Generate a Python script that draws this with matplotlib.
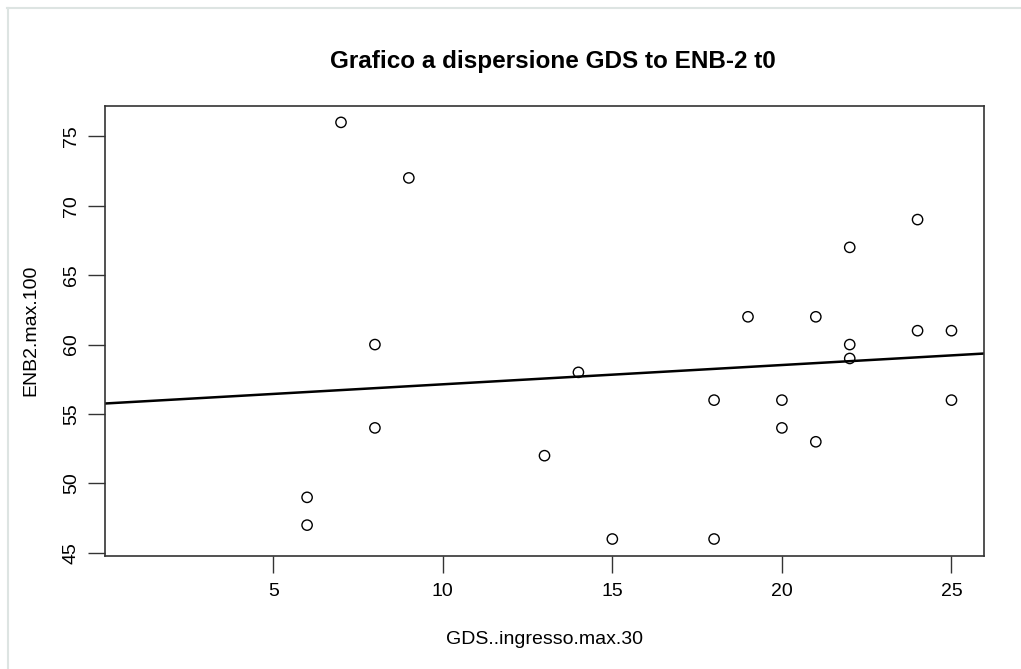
import numpy as np
import matplotlib
matplotlib.use("Agg")
import matplotlib.pyplot as plt
from matplotlib.lines import Line2D

# GDS (x) vs ENB-2 (y), one point per subject
gds = [7, 9, 8, 8, 6, 6, 13, 14, 15, 18, 18, 19, 20, 20, 21, 21, 22, 22, 22, 24, 24, 25, 25]
enb2 = [76, 72, 60, 54, 49, 47, 52, 58, 46, 56, 46, 62, 56, 54, 62, 53, 67, 60, 59, 69, 61, 61, 56]
xticks = [5, 10, 15, 20, 25]
yticks = [45, 50, 55, 60, 65, 70, 75]

plt.rcParams['font.family'] = ['Liberation Sans', 'DejaVu Sans']

fig = plt.figure(figsize=(10.21, 6.69), dpi=100)
ax = fig.add_axes([0.1028, 0.1694, 0.861, 0.6726])

ax.scatter(gds, enb2, s=55, facecolors='none', edgecolors='black', linewidths=1.0, zorder=3)

# linear fit like abline(lm(y ~ x))
slope, intercept = np.polyfit(gds, enb2, 1)
ax.axline((0, intercept), slope=slope, color='black', lw=1.8, zorder=2)

# R-style limits: xlim=c(1,25), ylim from data, with 4% padding
ax.set_xlim(1 - 0.96, 25 + 0.96)
ax.set_ylim(44.8, 77.2)

ax.set_xticks(xticks)
ax.set_yticks(yticks)
ax.set_yticklabels([str(v) for v in yticks], rotation=90, va='center')
ax.tick_params(axis='both', direction='out', length=12, width=1.0, color='#333333',
               labelsize=14, pad=8)
ax.tick_params(axis='y', pad=6)
for sp in ax.spines.values():
    sp.set_color('#333333')
    sp.set_linewidth(1.2)

ax.set_xlabel("GDS..ingresso.max.30", fontsize=14, labelpad=22)
ax.set_ylabel("ENB2.max.100", fontsize=14, labelpad=17)
ax.set_title("Grafico a dispersione GDS to ENB-2 t0", fontsize=17.5, fontweight='bold',
             pad=27, x=0.509)

# thin grey frame at top and left of the picture
fig.add_artist(Line2D([0.007, 1.0], [1 - 7.5 / 669] * 2, transform=fig.transFigure,
                      color='#dde4e2', lw=1.5))
fig.add_artist(Line2D([7.5 / 1021] * 2, [0, 1 - 7.5 / 669], transform=fig.transFigure,
                      color='#dde4e2', lw=1.5))

plt.savefig("out.png", dpi=100)
